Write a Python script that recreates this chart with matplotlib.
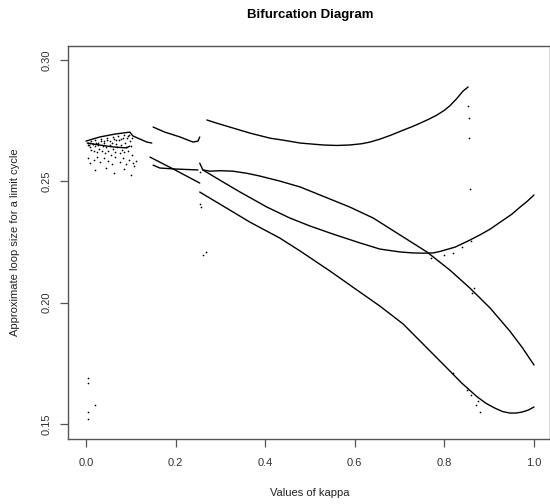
import matplotlib
matplotlib.use("Agg")
import matplotlib.pyplot as plt
import numpy as np

plt.rcParams['font.family'] = ['Liberation Sans', 'DejaVu Sans']

# branches (kappa, loop size)
top_x = [0.270, 0.285, 0.299, 0.328, 0.366, 0.411, 0.440, 0.478, 0.529, 0.560, 0.589, 0.615,
         0.634, 0.656, 0.680, 0.708, 0.730, 0.746, 0.765, 0.783, 0.800, 0.8125, 0.828, 0.842, 0.853]
top_y = [0.2753, 0.2744, 0.2736, 0.2720, 0.2699, 0.2678, 0.2670, 0.2658, 0.2650, 0.2648, 0.2650, 0.2655,
         0.2662, 0.2674, 0.2690, 0.2711, 0.2727, 0.2740, 0.2756, 0.2773, 0.2793, 0.2812, 0.2842, 0.2873, 0.2889]

top2_x = [0.150, 0.176, 0.210, 0.239, 0.250, 0.254]
top2_y = [0.2724, 0.2703, 0.2683, 0.2662, 0.2666, 0.2683]

mid_x = [0.150, 0.165, 0.199, 0.250]
mid_y = [0.2567, 0.2555, 0.2551, 0.2547]

low1_x = [0.143, 0.199, 0.254]
low1_y = [0.2600, 0.2547, 0.2493]

low2_x = [0.254, 0.310, 0.366, 0.433, 0.478, 0.545, 0.605, 0.656, 0.708, 0.757,
          0.806, 0.839, 0.873, 0.893, 0.913, 0.930, 0.946, 0.960, 0.973, 0.987, 1.0]
low2_y = [0.2456, 0.2394, 0.2332, 0.2266, 0.2213, 0.2130, 0.2052, 0.1986, 0.1912, 0.1821,
          0.1730, 0.1668, 0.1612, 0.1585, 0.1565, 0.1551, 0.1545, 0.1545, 0.1549, 0.1557, 0.1570]

c_x = [0.254, 0.261, 0.277, 0.300, 0.328, 0.360, 0.388, 0.433, 0.478, 0.545, 0.589, 0.641, 0.701,
       0.761, 0.8125, 0.857, 0.902, 0.946, 0.973, 1.0]
c_y = [0.2575, 0.2547, 0.2542, 0.2544, 0.2542, 0.2533, 0.2522, 0.2501, 0.2477, 0.2427, 0.2394, 0.2349, 0.2279,
       0.2209, 0.2134, 0.2060, 0.1978, 0.1883, 0.1817, 0.1743]

d_x = [0.261, 0.299, 0.344, 0.404, 0.455, 0.500, 0.551, 0.612, 0.656, 0.701, 0.730, 0.752,
       0.775, 0.790, 0.824, 0.857, 0.880, 0.902, 0.931, 0.950, 0.969, 0.985, 1.0]
d_y = [0.2547, 0.2505, 0.2456, 0.2394, 0.2349, 0.2316, 0.2283, 0.2246, 0.2221, 0.2209, 0.2205, 0.2204,
       0.2205, 0.2211, 0.2229, 0.2258, 0.2280, 0.2303, 0.2340, 0.2364, 0.2394, 0.2418, 0.2444]

# small-kappa wedge edges
wedge_up_x = [0.0, 0.031, 0.065, 0.098, 0.105, 0.121, 0.136, 0.147]
wedge_up_y = [0.2666, 0.2683, 0.2695, 0.2703, 0.2687, 0.2674, 0.2662, 0.2658]
wedge_lo_x = [0.003, 0.03, 0.06, 0.09, 0.098]
wedge_lo_y = [0.2658, 0.2650, 0.2642, 0.2638, 0.2645]

# scattered points
pts_x = [0.005, 0.008, 0.010, 0.012, 0.015, 0.018, 0.020, 0.022, 0.025, 0.028, 0.030, 0.033,
         0.035, 0.038, 0.040, 0.043, 0.045, 0.048, 0.050, 0.053, 0.055, 0.058, 0.060, 0.063,
         0.065, 0.068, 0.070, 0.073, 0.075, 0.078, 0.080, 0.083, 0.085, 0.088, 0.090, 0.093,
         0.095, 0.098, 0.100, 0.103,
         0.004, 0.007, 0.011, 0.016, 0.021, 0.027, 0.034, 0.041, 0.047, 0.054, 0.061, 0.067,
         0.072, 0.079, 0.086, 0.092, 0.097, 0.102,
         0.005, 0.010, 0.018, 0.025, 0.032, 0.040, 0.050, 0.058, 0.066, 0.075, 0.082, 0.090,
         0.097, 0.105, 0.112, 0.020, 0.045, 0.062, 0.085, 0.100, 0.108,
         0.005, 0.005, 0.005, 0.005, 0.020,
         0.254, 0.257, 0.262, 0.268, 0.255,
         0.853, 0.855, 0.855, 0.858, 0.860, 0.840, 0.800, 0.770, 0.820, 0.862, 0.866,
         0.860, 0.870, 0.880, 0.820, 0.850, 0.875]
pts_y = [0.2650, 0.2640, 0.2660, 0.2630, 0.2655, 0.2625, 0.2645, 0.2660, 0.2620, 0.2650,
         0.2635, 0.2665, 0.2625, 0.2645, 0.2660, 0.2615, 0.2640, 0.2670, 0.2625, 0.2650,
         0.2610, 0.2660, 0.2635, 0.2675, 0.2620, 0.2655, 0.2640, 0.2670, 0.2615, 0.2650,
         0.2630, 0.2680, 0.2620, 0.2660, 0.2640, 0.2685, 0.2625, 0.2665, 0.2645, 0.2610,
         0.2660, 0.2650, 0.2668, 0.2655, 0.2672, 0.2660, 0.2676, 0.2665, 0.2680, 0.2668,
         0.2684, 0.2670, 0.2688, 0.2675, 0.2690, 0.2678, 0.2693, 0.2680,
         0.2595, 0.2575, 0.2590, 0.2600, 0.2580, 0.2595, 0.2585, 0.2570, 0.2600, 0.2580,
         0.2595, 0.2570, 0.2590, 0.2575, 0.2585, 0.2545, 0.2555, 0.2535, 0.2550, 0.2525,
         0.2565,
         0.1690, 0.1670, 0.1550, 0.1520, 0.1580,
         0.2405, 0.2395, 0.2195, 0.2210, 0.2540,
         0.2810, 0.2760, 0.2680, 0.2470, 0.2255, 0.2230, 0.2195, 0.2185, 0.2205, 0.2040,
         0.2060, 0.1620, 0.1580, 0.1550, 0.1710, 0.1640, 0.1595]

fig = plt.figure(figsize=(5.5, 5.04), dpi=100)
ax = fig.add_axes([68 / 550, 1 - 439 / 504, (550 - 68) / 550, (439 - 46) / 504])

line_kw = dict(color='black', lw=1.0, solid_capstyle='round', solid_joinstyle='round')
for xs, ys in [(top_x, top_y), (top2_x, top2_y), (mid_x, mid_y), (low1_x, low1_y),
               (low2_x, low2_y), (c_x, c_y), (d_x, d_y), (wedge_up_x, wedge_up_y),
               (wedge_lo_x, wedge_lo_y)]:
    ax.plot(xs, ys, **line_kw)
ax.scatter(pts_x, pts_y, s=1.5, color='black', linewidths=0)

ax.set_xlim(-0.04, 1.0357)
ax.set_ylim(0.1438, 0.3058)
ax.set_xticks([0.0, 0.2, 0.4, 0.6, 0.8, 1.0])
ax.set_xticklabels(['0.0', '0.2', '0.4', '0.6', '0.8', '1.0'])
ax.set_yticks([0.15, 0.20, 0.25, 0.30])
ax.set_yticklabels(['0.15', '0.20', '0.25', '0.30'], rotation=90, va='center')

for sp in ax.spines.values():
    sp.set_color('#555555')
    sp.set_linewidth(1.0)
ax.tick_params(axis='both', direction='out', length=6, width=0.9, color='#555555',
               labelsize=8, labelcolor='#333333')
ax.tick_params(axis='x', pad=8)
ax.tick_params(axis='y', pad=6)

ax.set_title("Bifurcation Diagram", fontsize=9.5, fontweight='bold', pad=20, x=(310 - 68) / 482)
fig.text(310 / 550, 1 - 493 / 504, "Values of kappa", ha='center', va='center', fontsize=8,
         color='#222222')
fig.text(15 / 550, 1 - 242 / 504, "Approximate loop size for a limit cycle", ha='center',
         va='center', rotation=90, fontsize=8, color='#222222')

fig.savefig("out.png", dpi=100)
